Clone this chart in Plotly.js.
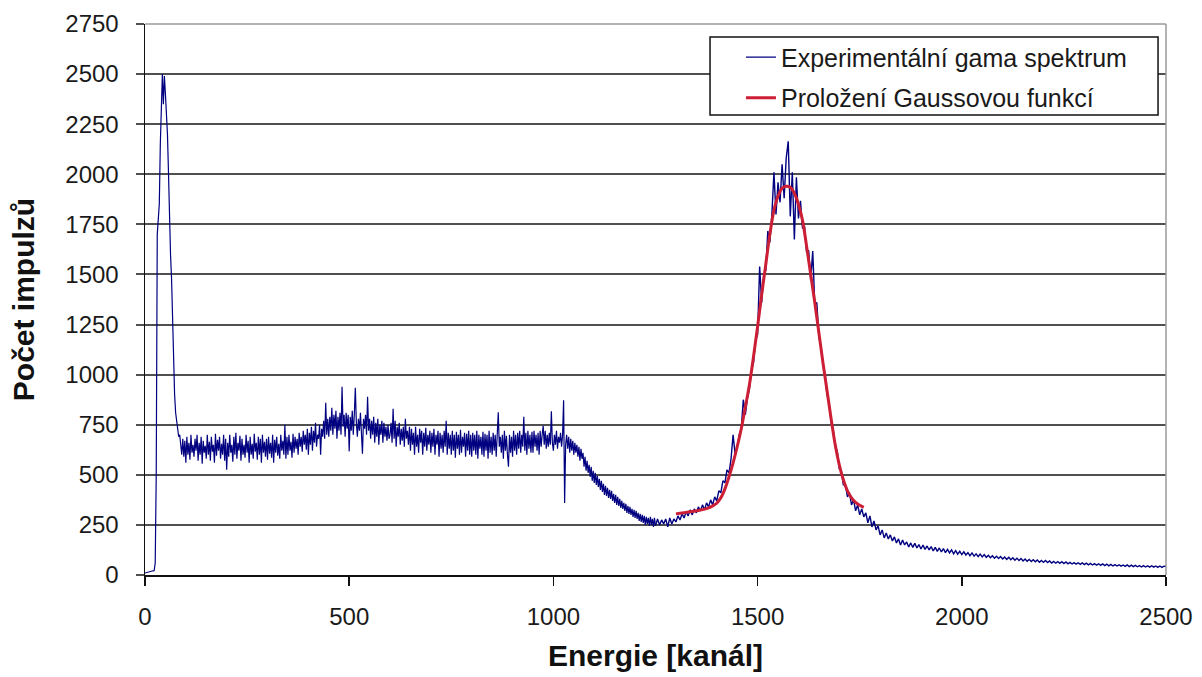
<!DOCTYPE html>
<html>
<head>
<meta charset="utf-8">
<script src="https://cdn.plot.ly/plotly-3.0.1.min.js"></script>
<style>html,body{margin:0;padding:0;background:#fff;}#chart{width:1202px;height:677px;}</style>
</head>
<body>
<div id="chart"></div>
<script>
// Experimental spectrum, part 1: channels 0 to 1250, read every 2.5 channels
const lowStart = 0;
const lowStep = 2.5;
const lowCounts = [
  10, 12, 14, 15, 17, 18, 19, 20, 21, 22, 60, 500, 1700, 1800, 1850, 2150, 2300, 2500, 2350, 2490,
  2400, 2300, 2200, 2010, 1760, 1600, 1480, 1250, 990, 900, 810, 760, 720, 690, 700, 640, 600, 680, 590, 670,
  560, 690, 600, 660, 575, 700, 610, 650, 590, 680, 620, 700, 570, 660, 600, 690, 555, 670, 610, 645,
  580, 700, 600, 665, 570, 690, 615, 650, 560, 705, 595, 675, 620, 690, 580, 655, 600, 700, 570, 680,
  525, 660, 590, 700, 610, 650, 565, 690, 600, 710, 580, 660, 620, 695, 570, 680, 600, 650, 585, 700,
  610, 670, 560, 690, 600, 655, 580, 705, 615, 660, 575, 690, 600, 680, 560, 700, 610, 665, 590, 680,
  575, 690, 605, 660, 585, 700, 560, 675, 610, 690, 595, 655, 580, 700, 620, 670, 600, 750, 580, 690,
  600, 700, 620, 665, 585, 705, 610, 690, 630, 680, 600, 710, 640, 690, 615, 720, 650, 700, 625, 730,
  600, 710, 650, 740, 620, 720, 660, 760, 640, 700, 680, 750, 600, 730, 690, 770, 680, 860, 700, 780,
  690, 790, 720, 835, 700, 800, 730, 820, 680, 790, 720, 810, 700, 940, 740, 800, 690, 810, 730, 800,
  617, 790, 720, 820, 700, 800, 935, 760, 690, 780, 720, 810, 700, 605, 780, 730, 800, 700, 890, 720,
  780, 680, 770, 700, 790, 660, 760, 690, 780, 650, 750, 700, 770, 660, 760, 690, 740, 670, 750, 680,
  700, 760, 660, 830, 680, 770, 640, 740, 690, 760, 650, 730, 670, 740, 640, 780, 680, 720, 650, 740,
  620, 730, 650, 710, 600, 740, 640, 700, 610, 730, 660, 720, 600, 710, 640, 735, 620, 700, 650, 720,
  610, 710, 640, 730, 600, 700, 650, 720, 590, 710, 630, 700, 610, 720, 640, 770, 600, 710, 630, 700,
  600, 720, 620, 700, 585, 715, 630, 700, 600, 725, 610, 690, 640, 710, 590, 705, 620, 720, 600, 700,
  590, 710, 620, 700, 600, 720, 580, 700, 630, 690, 600, 715, 590, 705, 620, 700, 580, 720, 610, 690,
  600, 710, 620, 700, 590, 720, 812, 640, 690, 610, 700, 580, 720, 620, 695, 600, 540, 700, 610, 690,
  590, 720, 620, 700, 600, 710, 630, 720, 610, 700, 640, 790, 620, 710, 600, 720, 630, 700, 610, 715,
  610, 720, 640, 700, 620, 710, 600, 720, 640, 700, 745, 650, 720, 630, 700, 640, 710, 650, 817, 660,
  620, 700, 650, 720, 630, 690, 660, 710, 640, 700, 872, 360, 650, 700, 630, 690, 610, 680, 620, 670,
  600, 660, 610, 650, 590, 640, 570, 630, 580, 610, 540, 590, 520, 570, 510, 550, 490, 540, 470, 520,
  460, 510, 450, 495, 440, 480, 425, 470, 415, 455, 400, 445, 395, 435, 385, 425, 380, 420, 370, 405,
  360, 400, 350, 390, 345, 380, 335, 370, 330, 360, 320, 355, 310, 345, 305, 340, 300, 330, 290, 325,
  285, 320, 280, 310, 270, 305, 265, 300, 260, 295, 250, 290, 255, 285, 245, 290, 250, 280, 240, 285,
  245
];

// Experimental spectrum, part 2: channels 1250 to 2500, read every 5 channels
const highStart = 1250;
const highStep = 5;
const highCounts = [
  245, 280, 250, 275, 255, 280, 240, 285, 255, 280,
  265, 295, 275, 305, 285, 315, 295, 325, 300, 330,
  310, 340, 320, 350, 325, 360, 340, 375, 350, 390,
  370, 420, 410, 470, 460, 525, 510, 580, 700, 600,
  640, 700, 730, 875, 800, 880, 930, 1020, 1060, 1170,
  1200, 1540, 1360, 1500, 1520, 1717, 1660, 1800, 2010, 1800,
  1960, 1860, 2050, 1880, 2080, 2165, 1790, 2010, 1675, 1985,
  1780, 1867, 1730, 1740, 1610, 1620, 1470, 1617, 1350, 1360,
  1190, 1140, 1060, 1000, 900, 860, 760, 730, 640, 620,
  530, 520, 450, 450, 390, 410, 350, 375, 320, 350,
  300, 330, 290, 310, 260, 295, 240, 270, 225, 245,
  200, 225, 185, 210, 180, 200, 170, 190, 160, 180,
  150, 175, 150, 165, 140, 160, 138, 158, 135, 152,
  130, 150, 128, 145, 125, 142, 120, 138, 118, 135,
  115, 132, 112, 128, 110, 125, 106, 122, 104, 118,
  102, 116, 100, 112, 96, 110, 94, 106, 92, 104,
  90, 102, 88, 98, 86, 96, 84, 94, 82, 92,
  80, 90, 78, 88, 76, 86, 74, 84, 72, 82,
  70, 80, 69, 78, 67, 76, 66, 75, 64, 73,
  63, 72, 62, 70, 60, 68, 59, 67, 58, 66,
  57, 65, 56, 63, 55, 62, 54, 61, 53, 60,
  52, 59, 51, 58, 50, 57, 49, 56, 48, 55,
  47, 54, 46, 53, 45, 52, 45, 51, 44, 50,
  43, 50, 42, 49, 42, 48, 41, 47, 40, 47,
  40, 46, 39, 46, 39, 45, 38, 45, 38, 44,
  42
];

// Gaussian fit curve, read every 10 channels from channel 1300 to 1760
const fitStart = 1300;
const fitStep = 10;
const fitCounts = [
  305, 308, 311, 314, 317, 320, 324, 329, 335, 345,
  358, 385, 430, 490, 560, 640, 730, 840, 950, 1090,
  1240, 1400, 1550, 1700, 1820, 1890, 1930, 1940, 1935, 1905,
  1850, 1770, 1640, 1500, 1360, 1210, 1060, 920, 780, 650,
  550, 475, 420, 385, 362, 348, 338
];

const seriesNames = ['Experimentální gama spektrum', 'Proložení Gaussovou funkcí'];
const xTicks = [0, 500, 1000, 1500, 2000, 2500];
const yTicks = [0, 250, 500, 750, 1000, 1250, 1500, 1750, 2000, 2250, 2500, 2750];

const FONT = 'Arial, "Liberation Sans", sans-serif';
const BLUE = '#000080';

const traces = [
  {
    type: 'scatter', mode: 'lines', name: seriesNames[0], legendgroup: 'a',
    x0: lowStart, dx: lowStep, y: lowCounts,
    line: {color: BLUE, width: 1.2}
  },
  {
    type: 'scatter', mode: 'lines', name: seriesNames[0], legendgroup: 'a', showlegend: false,
    x0: highStart, dx: highStep, y: highCounts,
    line: {color: BLUE, width: 1.4}
  },
  {
    type: 'scatter', mode: 'lines', name: seriesNames[1], legendgroup: 'b',
    x0: fitStart, dx: fitStep, y: fitCounts,
    line: {color: '#cc1f35', width: 3, shape: 'spline'}
  }
];

const layout = {
  width: 1202, height: 677,
  margin: {l: 145, r: 36, t: 24, b: 102},
  paper_bgcolor: '#ffffff', plot_bgcolor: '#ffffff',
  font: {family: FONT, color: '#1a1a1a', size: 24},
  showlegend: true,
  legend: {
    x: 0.5837, y: 0.981, xanchor: 'left', yanchor: 'top',
    bgcolor: 'rgba(0,0,0,0)', borderwidth: 0,
    font: {family: FONT, size: 25, color: '#1a1a1a'},
    traceorder: 'grouped', tracegroupgap: 5, itemwidth: 30
  },
  xaxis: {
    range: [0, 2500], tickvals: xTicks, ticktext: xTicks.map(String),
    showgrid: false, zeroline: false,
    showline: true, linecolor: '#111', linewidth: 1.5,
    ticks: 'outside', ticklen: 9, tickwidth: 1.5, tickcolor: '#111',
    tickfont: {family: FONT, size: 24, color: '#1a1a1a'},
    ticklabelstandoff: 11,
    title: {text: 'Energie [kanál]', font: {family: FONT, size: 30, color: '#111', weight: 'bold'}, standoff: 15},
    automargin: false
  },
  yaxis: {
    range: [0, 2750], tickvals: yTicks, ticktext: yTicks.map(String),
    showgrid: true, gridcolor: '#505050', gridwidth: 2,
    zeroline: false,
    showline: true, linecolor: '#111', linewidth: 1.5,
    ticks: 'outside', ticklen: 8, tickwidth: 2, tickcolor: '#505050',
    tickfont: {family: FONT, size: 24, color: '#1a1a1a'},
    ticklabelstandoff: 12,
    title: {text: 'Počet impulzů', font: {family: FONT, size: 30, color: '#111', weight: 'bold'}, standoff: 22},
    automargin: false
  },
  shapes: [
    {type: 'line', xref: 'paper', yref: 'paper', x0: 0, x1: 1, y0: 1, y1: 1, line: {color: '#9a9a9a', width: 1.5}, layer: 'above'},
    {type: 'line', xref: 'paper', yref: 'paper', x0: 1, x1: 1, y0: 0, y1: 1, line: {color: '#9a9a9a', width: 1.5}, layer: 'above'},
    {type: 'rect', xref: 'paper', yref: 'paper', x0: 0.5534, x1: 0.9922, y0: 0.8348, y1: 0.9764,
     fillcolor: '#ffffff', line: {color: '#111', width: 1.5}, layer: 'above'}
  ]
};

Plotly.newPlot('chart', traces, layout, {staticPlot: true, displayModeBar: false});
</script>
</body>
</html>
